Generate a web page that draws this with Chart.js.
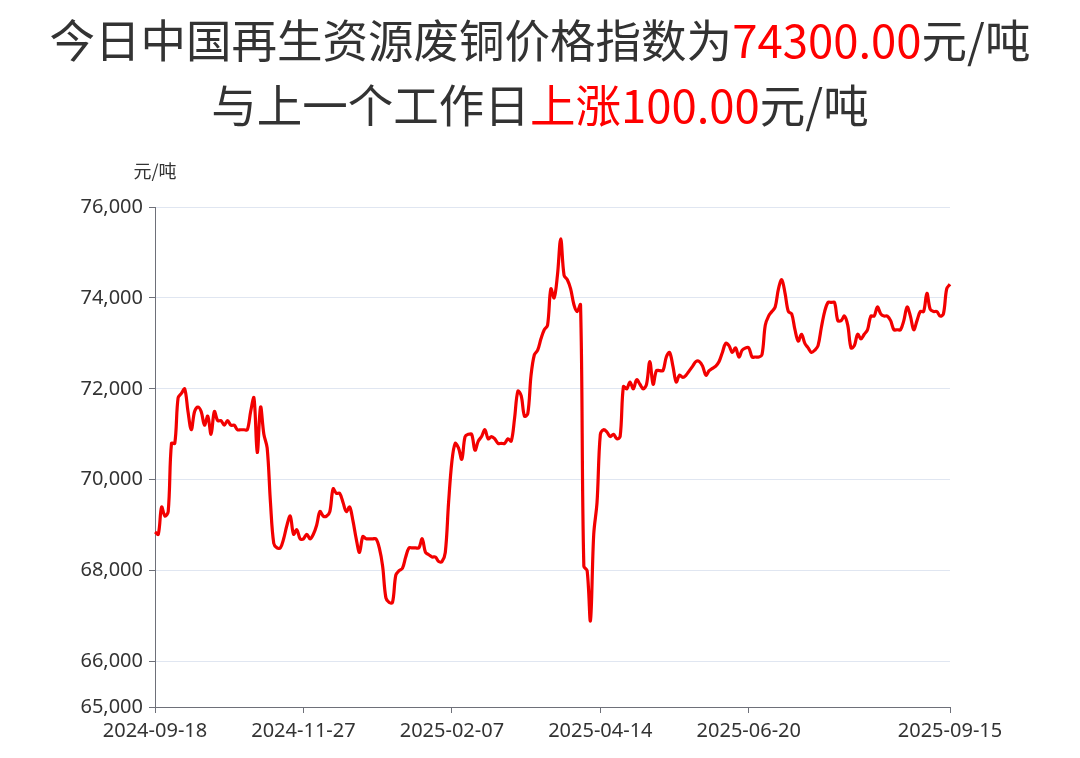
<!DOCTYPE html>
<html>
<head>
<meta charset="utf-8">
<script src="https://cdn.jsdelivr.net/npm/chart.js@4.4.1/dist/chart.umd.min.js"></script>
<style>
  body { margin: 0; background: #fff; font-family: 'Noto Sans', 'Noto Sans CJK SC', sans-serif; }
  #wrap { position: relative; width: 1080px; height: 758px; }
  #title { position: absolute; top: 6px; left: 0; width: 1080px; text-align: center;
           font-size: 45.5px; line-height: 65px; color: #333; font-family: 'Noto Sans CJK SC', 'Noto Sans', sans-serif; }
  #title .red { color: #ff0000; }
  #unit { position: absolute; top: 157px; left: 115px; width: 80px; text-align: center;
          font-size: 18px; color: #333; font-family: 'Noto Sans CJK SC', sans-serif; }
  canvas { position: absolute; left: 0; top: 0; }
</style>
</head>
<body>
<div id="wrap">
  <canvas id="myChart" width="1080" height="758"></canvas>
  <div id="title">今日中国再生资源废铜价格指数为<span class="red">74300.00</span>元/吨<br>与上一个工作日<span class="red">上涨100.00</span>元/吨</div>
  <div id="unit">元/吨</div>
</div>
<script>
// trading days between start and end (weekdays minus holidays)
var startDate = '2024-09-18';
var endDate = '2025-09-15';
var holidays = ['2024-10-01','2024-10-02','2024-10-03','2024-10-04','2024-10-07',
    '2025-01-01','2025-01-28','2025-01-29','2025-01-30','2025-01-31','2025-02-03','2025-02-04',
    '2025-04-04','2025-05-01','2025-05-02','2025-05-05','2025-06-02'];
var tickLabels = ['2024-09-18', '2024-11-27', '2025-02-07', '2025-04-14', '2025-06-20', '2025-09-15'];

// price index, yuan/ton
var prices = [
    68850, 68800, 69400, 69200, 69300, 70800, 70800, 71800, 71900, 72000,
    71500, 71100, 71500, 71600, 71500, 71200, 71400, 71000, 71500, 71300,
    71300, 71200, 71300, 71200, 71200, 71100, 71100, 71100, 71100, 71500,
    71800, 70600, 71600, 71000, 70700, 69500, 68600, 68500, 68500, 68700,
    69000, 69200, 68800, 68900, 68700, 68700, 68800, 68700, 68800, 69000,
    69300, 69200, 69200, 69300, 69800, 69700, 69700, 69500, 69300, 69400,
    69100, 68700, 68400, 68750, 68700, 68700, 68700, 68700, 68500, 68100,
    67400, 67300, 67300, 67900, 68000, 68050, 68300, 68500, 68500, 68500,
    68500, 68700, 68400, 68350, 68300, 68300, 68200, 68200, 68400, 69500,
    70400, 70800, 70700, 70450, 70950, 71000, 71000, 70650, 70850, 70950,
    71100, 70900, 70950, 70900, 70800, 70800, 70800, 70900, 70850, 71350,
    71950, 71850, 71400, 71450, 72300, 72750, 72850, 73100, 73300, 73400,
    74200, 74000, 74500, 75300, 74500, 74400, 74200, 73850, 73700, 73850,
    68100, 68000, 66900, 68800, 69500, 71000, 71100, 71050, 70950, 71000,
    70900, 70950, 72050, 72000, 72150, 72000, 72200, 72100, 72000, 72100,
    72600, 72100, 72400, 72400, 72400, 72700, 72800, 72500, 72150, 72300,
    72250, 72300, 72400, 72500, 72600, 72600, 72500, 72300, 72400, 72450,
    72500, 72600, 72800, 73000, 72950, 72800, 72900, 72700, 72850, 72900,
    72900, 72700, 72700, 72700, 72750, 73400, 73600, 73700, 73800, 74200,
    74400, 74100, 73700, 73650, 73300, 73050, 73200, 73000, 72900, 72800,
    72850, 72950, 73350, 73700, 73900, 73900, 73900, 73500, 73500, 73600,
    73400, 72900, 72950, 73200, 73100, 73200, 73300, 73600, 73600, 73800,
    73650, 73600, 73600, 73500, 73300, 73300, 73300, 73500, 73800, 73600,
    73300, 73500, 73700, 73700, 74100, 73750, 73700, 73700, 73600, 73650,
    74200, 74300
];
var yTicks = [65000, 66000, 68000, 70000, 72000, 74000, 76000];

function pad(n) { return n < 10 ? '0' + n : '' + n; }
function makeDates() {
    var out = [];
    var d = new Date(startDate + 'T00:00:00Z');
    var end = new Date(endDate + 'T00:00:00Z');
    while (d <= end) {
        var s = d.getUTCFullYear() + '-' + pad(d.getUTCMonth() + 1) + '-' + pad(d.getUTCDate());
        var wd = d.getUTCDay();
        if (wd != 0 && wd != 6 && holidays.indexOf(s) < 0) out.push(s);
        d.setUTCDate(d.getUTCDate() + 1);
    }
    return out;
}
var dates = makeDates();

var axisColor = '#6e7079';
var labelFont = { family: "'Noto Sans', 'Noto Sans CJK SC', sans-serif", size: 20 };

var ctx = document.getElementById('myChart');
var myChart = new Chart(ctx, {
    type: 'line',
    data: {
        labels: dates,
        datasets: [{
            data: prices,
            borderColor: '#f20000',
            borderWidth: 3.2,
            pointRadius: 0,
            tension: 0.35,
            fill: false
        }]
    },
    options: {
        responsive: false,
        animation: false,
        layout: { padding: { left: 0, top: 207, right: 130, bottom: 0 } },
        plugins: { legend: { display: false }, tooltip: { enabled: false } },
        scales: {
            x: {
                type: 'category',
                offset: false,
                afterBuildTicks: function(scale) {
                    scale.ticks = scale.ticks.filter(function(t) {
                        return tickLabels.indexOf(dates[t.value]) >= 0;
                    });
                },
                afterFit: function(scale) { scale.height = 51; },
                ticks: {
                    autoSkip: false, maxRotation: 0, color: '#333', font: labelFont, padding: 6,
                    callback: function(v) { return dates[v]; }
                },
                grid: { drawOnChartArea: false, drawTicks: true, tickLength: 6, tickColor: axisColor },
                border: { display: true, color: axisColor, width: 1 }
            },
            y: {
                min: 65000,
                max: 76000,
                afterBuildTicks: function(scale) {
                    scale.ticks = yTicks.map(function(v) { return { value: v }; });
                },
                afterFit: function(scale) { scale.width = 155; },
                ticks: {
                    color: '#333', font: labelFont, padding: 6,
                    callback: function(v) { return v.toLocaleString('en-US'); }
                },
                grid: { color: '#e0e6f1', tickLength: 6, tickColor: axisColor },
                border: { display: true, color: axisColor, width: 1 }
            }
        }
    }
});
</script>
</body>
</html>
